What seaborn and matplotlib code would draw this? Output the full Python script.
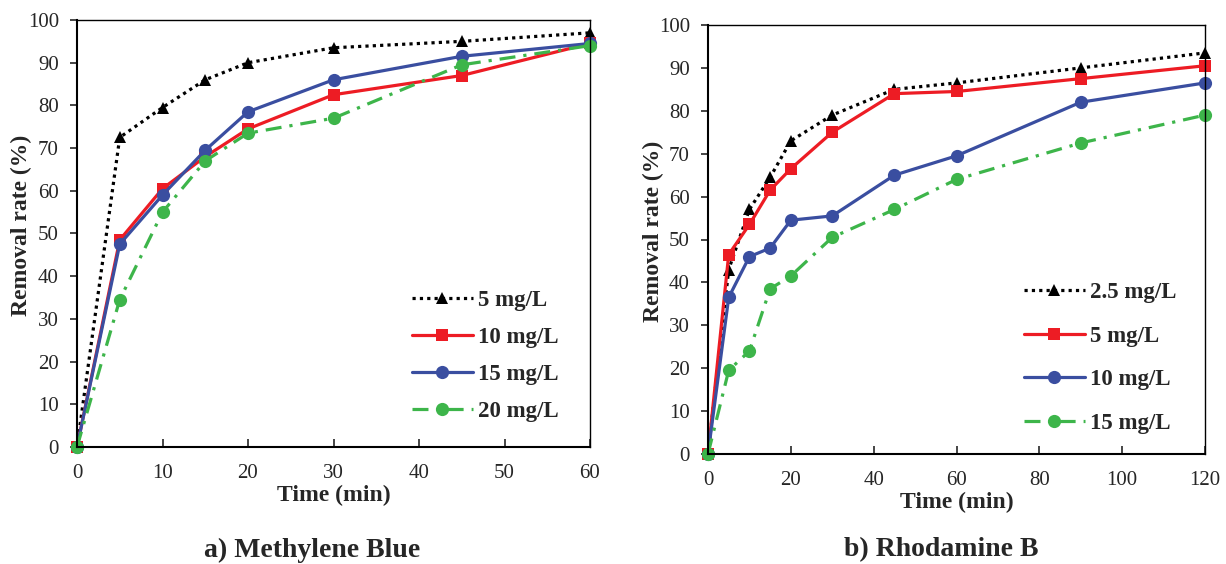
import pandas as pd
import numpy as np
import matplotlib
matplotlib.use("Agg")
import matplotlib.pyplot as plt
import seaborn as sns

# =====================================================
# DATA
# =====================================================

mb_time = [0, 5, 10, 15, 20, 30, 45, 60]
mb_5 = [0, 72.5, 79.5, 86, 90, 93.5, 95, 97]
mb_10 = [0, 48.5, 60.5, 68, 74.5, 82.5, 87, 94.5]
mb_15 = [0, 47.5, 59, 69.5, 78.5, 86, 91.5, 94.5]
mb_20 = [0, 34.5, 55, 67, 73.5, 77, 89.5, 94]
mb_labels = ["5 mg/L", "10 mg/L", "15 mg/L", "20 mg/L"]

rhb_time = [0, 5, 10, 15, 20, 30, 45, 60, 90, 120]
rhb_25 = [0, 43, 57, 64.5, 73, 79, 85, 86.5, 90, 93.5]
rhb_5 = [0, 46.5, 53.5, 61.5, 66.5, 75, 84, 84.5, 87.5, 90.5]
rhb_10 = [0, 36.5, 46, 48, 54.5, 55.5, 65, 69.5, 82, 86.5]
rhb_15 = [0, 19.5, 24, 38.5, 41.5, 50.5, 57, 64, 72.5, 79]
rhb_labels = ["2.5 mg/L", "5 mg/L", "10 mg/L", "15 mg/L"]

# =====================================================
# STYLE
# =====================================================

sns.set_style("ticks")
plt.rcParams["font.family"] = ["Liberation Serif", "DejaVu Serif"]

styles = [
    dict(color="black", marker="^", linestyle=(0, (1, 1.3)), markersize=8),
    dict(color="#ED1C24", marker="s", linestyle="-", markersize=9),
    dict(color="#3A4EA0", marker="o", linestyle="-", markersize=9.5),
    dict(color="#3DB54A", marker="o", linestyle=(0, (5, 2.5, 1, 2.5)), markersize=9.5),
]

W, H = 1226, 564
fig = plt.figure(figsize=(W / 100, H / 100), dpi=100)

ax1 = fig.add_axes([77 / W, 1 - 447 / H, 513 / W, 427 / H])
ax2 = fig.add_axes([708 / W, 1 - 454 / H, 497 / W, 429 / H])


def draw_panel(ax, x, series, labels, xmax, xstep, anchor, spacing):
    for y, lab, st in zip(series, labels, styles):
        df = pd.DataFrame({"t": x, "r": y})
        sns.lineplot(
            data=df, x="t", y="r", ax=ax,
            color=st["color"], marker=st["marker"],
            linestyle=st["linestyle"], linewidth=2.3,
            markersize=st["markersize"], markeredgewidth=0,
            label=lab, clip_on=False, errorbar=None,
        )
    ax.set_xlim(0, xmax)
    ax.set_ylim(0, 100)
    ax.set_xticks(np.arange(0, xmax + 1, xstep))
    ax.set_yticks(np.arange(0, 101, 10))
    ax.tick_params(axis="x", direction="in", length=6, width=1.2,
                   labelsize=15, pad=12)
    ax.tick_params(axis="y", direction="out", length=5, width=1.2,
                   labelsize=15, pad=8)
    for s in ax.spines.values():
        s.set_linewidth(1.0)
        s.set_color("black")
    ax.spines["left"].set_linewidth(1.5)
    ax.spines["bottom"].set_linewidth(1.5)
    ax.set_xlabel("Time (min)", fontsize=17, fontweight="bold")
    ax.set_ylabel("Removal rate (%)", fontsize=17, fontweight="bold")
    ax.xaxis.set_label_coords(0.5, -0.088)
    ax.yaxis.set_label_coords(-0.088, 0.52)
    ax.legend(
        loc="center left", bbox_to_anchor=anchor, frameon=False,
        prop={"weight": "bold", "size": 16.5}, handlelength=2.65,
        labelspacing=spacing, handletextpad=0.25, borderpad=0,
        borderaxespad=0,
    )


draw_panel(ax1, mb_time, [mb_5, mb_10, mb_15, mb_20], mb_labels,
           60, 10, ((412 - 77) / 513, (447 - 356) / 427), 0.7)
draw_panel(ax2, rhb_time, [rhb_25, rhb_5, rhb_10, rhb_15], rhb_labels,
           120, 20, ((1024 - 708) / 497, (454 - 358) / 429), 1.0)

fig.text(312 / W, 1 - 550 / H, "a) Methylene Blue", ha="center",
         va="center", fontsize=20, fontweight="bold")
fig.text(941 / W, 1 - 550 / H, "b) Rhodamine B", ha="center",
         va="center", fontsize=20, fontweight="bold")

fig.savefig("out.png", dpi=100)
